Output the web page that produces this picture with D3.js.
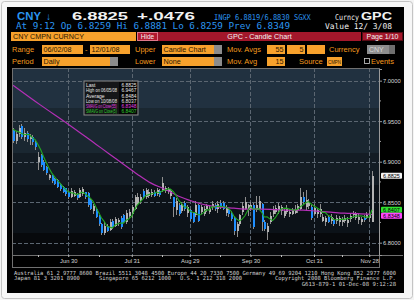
<!DOCTYPE html>
<html>
<head>
<meta charset="utf-8">
<script src="https://cdn.jsdelivr.net/npm/d3@7"></script>
<style>
  html, body { margin: 0; padding: 0; background: #f4f4f4; }
  svg { display: block; }
</style>
</head>
<body>
<svg id="chart" width="414" height="300"></svg>
<script>
// ---- data (CNY CMPN, daily, 06/02/08 - 12/01/08) ----
const startDate = "2008-06-02";
const endDate = "2008-12-01";

const open = [
  6.9390,6.9250,6.9340,6.9440,6.9300,6.9350,6.9280,6.9300,6.9240,6.8990,
  6.9080,6.9000,6.8930,6.8800,6.8830,6.8790,6.8770,6.8720,6.8690,6.8670,
  6.8620,6.8570,6.8580,6.8600,6.8570,6.8600,6.8620,6.8610,6.8530,6.8390,
  6.8420,6.8330,6.8230,6.8120,6.8210,6.8160,6.8270,6.8200,6.8250,6.8310,
  6.8340,6.8250,6.8330,6.8360,6.8420,6.8480,6.8510,6.8640,6.8560,6.8580,
  6.8590,6.8630,6.8600,6.8640,6.8650,6.8640,6.8620,6.8580,6.8560,6.8400,
  6.8470,6.8390,6.8490,6.8370,6.8400,6.8370,6.8340,6.8460,6.8380,6.8360,
  6.8410,6.8380,6.8440,6.8470,6.8420,6.8490,6.8490,6.8370,6.8400,6.8370,
  6.8310,6.8150,6.8230,6.8380,6.8420,6.8400,6.8420,6.8470,6.8400,6.8420,
  6.8480,6.8260,6.8130,6.8260,6.8350,6.8380,6.8400,6.8390,6.8330,6.8380,
  6.8350,6.8360,6.8370,6.8400,6.8420,6.8560,6.8440,6.8450,6.8440,6.8360,
  6.8360,6.8350,6.8270,6.8260,6.8320,6.8270,6.8280,6.8270,6.8260,6.8250,
  6.8270,6.8240,6.8290,6.8340,6.8310,6.8280,6.8250,6.8310,6.8310,6.8300,
  6.8259
];
const high = [
  6.9420,6.9380,6.9450,6.9467,6.9420,6.9380,6.9340,6.9330,6.9260,6.9120,
  6.9100,6.9020,6.8950,6.8850,6.8840,6.8800,6.8780,6.8740,6.8700,6.8680,
  6.8640,6.8680,6.8650,6.8610,6.8680,6.8690,6.8630,6.8620,6.8540,6.8480,
  6.8430,6.8340,6.8240,6.8250,6.8230,6.8290,6.8290,6.8320,6.8310,6.8330,
  6.8360,6.8400,6.8410,6.8470,6.8590,6.8610,6.8600,6.8660,6.8680,6.8660,
  6.8660,6.8650,6.8670,6.8660,6.8805,6.8700,6.8690,6.8660,6.8570,6.8550,
  6.8490,6.8500,6.8510,6.8470,6.8420,6.8380,6.8510,6.8480,6.8470,6.8450,
  6.8480,6.8460,6.8510,6.8490,6.8520,6.8530,6.8510,6.8470,6.8420,6.8390,
  6.8330,6.8260,6.8360,6.8500,6.8560,6.8480,6.8500,6.8490,6.8580,6.8580,
  6.8490,6.8280,6.8240,6.8380,6.8450,6.8470,6.8490,6.8470,6.8420,6.8460,
  6.8410,6.8430,6.8460,6.8480,6.8680,6.8620,6.8650,6.8540,6.8460,6.8480,
  6.8430,6.8480,6.8360,6.8330,6.8340,6.8350,6.8300,6.8340,6.8330,6.8320,
  6.8340,6.8320,6.8360,6.8390,6.8380,6.8350,6.8320,6.8340,6.8380,6.8400,
  6.8881
];
const low = [
  6.9230,6.9220,6.9310,6.9280,6.9250,6.9240,6.9200,6.9200,6.9150,6.8900,
  6.8940,6.8880,6.8840,6.8770,6.8740,6.8710,6.8670,6.8640,6.8610,6.8580,
  6.8540,6.8550,6.8560,6.8530,6.8550,6.8580,6.8540,6.8440,6.8400,6.8360,
  6.8300,6.8200,6.8100,6.8090,6.8130,6.8140,6.8170,6.8190,6.8200,6.8170,
  6.8240,6.8230,6.8300,6.8300,6.8400,6.8460,6.8480,6.8540,6.8540,6.8550,
  6.8570,6.8570,6.8580,6.8570,6.8620,6.8610,6.8600,6.8540,6.8320,6.8340,
  6.8330,6.8370,6.8390,6.8320,6.8270,6.8240,6.8320,6.8250,6.8360,6.8330,
  6.8380,6.8350,6.8400,6.8390,6.8370,6.8420,6.8400,6.8330,6.8320,6.8270,
  6.8100,6.8070,6.8210,6.8340,6.8400,6.8330,6.8390,6.8170,6.8380,6.8400,
  6.8150,6.8150,6.8037,6.8230,6.8320,6.8350,6.8360,6.8340,6.8300,6.8350,
  6.8320,6.8340,6.8350,6.8370,6.8400,6.8480,6.8400,6.8410,6.8280,6.8340,
  6.8300,6.8320,6.8250,6.8210,6.8240,6.8230,6.8210,6.8230,6.8210,6.8200,
  6.8240,6.8190,6.8250,6.8310,6.8280,6.8230,6.8220,6.8260,6.8290,6.8260,
  6.8259
];
const close = [
  6.9250,6.9340,6.9420,6.9300,6.9350,6.9280,6.9310,6.9240,6.9180,6.9060,
  6.8960,6.8900,6.8860,6.8830,6.8760,6.8730,6.8690,6.8660,6.8630,6.8600,
  6.8560,6.8640,6.8620,6.8550,6.8650,6.8660,6.8560,6.8460,6.8420,6.8450,
  6.8320,6.8230,6.8120,6.8200,6.8150,6.8260,6.8190,6.8290,6.8280,6.8190,
  6.8260,6.8370,6.8380,6.8440,6.8560,6.8570,6.8560,6.8560,6.8650,6.8620,
  6.8630,6.8580,6.8650,6.8590,6.8740,6.8680,6.8660,6.8640,6.8440,6.8520,
  6.8350,6.8480,6.8410,6.8440,6.8290,6.8260,6.8460,6.8270,6.8440,6.8420,
  6.8450,6.8430,6.8480,6.8410,6.8480,6.8440,6.8420,6.8440,6.8350,6.8290,
  6.8140,6.8230,6.8340,6.8450,6.8500,6.8460,6.8470,6.8190,6.8460,6.8520,
  6.8250,6.8170,6.8200,6.8330,6.8410,6.8430,6.8450,6.8440,6.8390,6.8420,
  6.8380,6.8400,6.8420,6.8450,6.8560,6.8500,6.8530,6.8500,6.8300,6.8430,
  6.8400,6.8420,6.8320,6.8300,6.8260,6.8320,6.8230,6.8310,6.8300,6.8290,
  6.8310,6.8280,6.8330,6.8370,6.8350,6.8320,6.8290,6.8280,6.8340,6.8349,
  6.8825
];
// SMAVG on Close(5), one value per day
const sma5 = [
  6.9400,6.9380,6.9370,6.9350,6.9332,6.9338,6.9332,6.9296,6.9272,6.9214,
  6.9150,6.9068,6.8992,6.8922,6.8862,6.8816,6.8774,6.8734,6.8694,6.8662,
  6.8628,6.8618,6.8610,6.8594,6.8604,6.8624,6.8608,6.8576,6.8550,6.8510,
  6.8442,6.8376,6.8308,6.8264,6.8204,6.8192,6.8184,6.8218,6.8234,6.8242,
  6.8242,6.8278,6.8296,6.8328,6.8402,6.8464,6.8502,6.8538,6.8580,6.8592,
  6.8604,6.8608,6.8626,6.8614,6.8638,6.8648,6.8664,6.8662,6.8632,6.8588,
  6.8522,6.8486,6.8440,6.8440,6.8394,6.8376,6.8372,6.8344,6.8344,6.8370,
  6.8408,6.8402,6.8444,6.8438,6.8450,6.8448,6.8446,6.8438,6.8426,6.8388,
  6.8328,6.8290,6.8270,6.8290,6.8332,6.8396,6.8444,6.8414,6.8416,6.8420,
  6.8378,6.8318,6.8320,6.8294,6.8272,6.8308,6.8364,6.8412,6.8424,6.8426,
  6.8416,6.8406,6.8402,6.8414,6.8442,6.8466,6.8492,6.8508,6.8478,6.8452,
  6.8432,6.8410,6.8374,6.8374,6.8340,6.8324,6.8286,6.8284,6.8284,6.8290,
  6.8288,6.8298,6.8302,6.8316,6.8328,6.8330,6.8332,6.8322,6.8316,6.8316,
  6.8407
];
// SMAVG on Close(55), read every 5th day
const sma55Day = [0,10,20,30,35,40,45,50,55,60,65,70,75,80,85,90,95,100,105,110,115,120,125,130];
const sma55Val = [6.9944,6.9698,6.9463,6.9216,6.9093,6.8969,6.8846,6.8735,6.8660,6.8574,6.8512,6.8463,
                  6.8438,6.8426,6.8414,6.8414,6.8407,6.8401,6.8401,6.8389,6.8377,6.8364,6.8358,6.8348];

const xTickDates = ["2008-06-30","2008-07-31","2008-08-29","2008-09-30","2008-10-31","2008-11-28"];
const xTickLabels = ["Jun 30","Jul 31","Aug 29","Sep 30","Oct 31","Nov 28"];
const xMinorDates = ["2008-06-13","2008-07-15","2008-08-15","2008-09-15","2008-10-15","2008-11-14"];
const yTicks = [6.80, 6.85, 6.90, 6.95, 7.00];
const yMinorTicks = [6.825, 6.875, 6.925, 6.975];

const legendLabels = ["Last","High on 06/05/08","Average","Low on 10/08/08","SMAVG on Close(55)","SMAVG on Close(5)"];
const legendValues = ["6.8825","6.9467","6.8484","6.8037","6.8348","6.8407"];

// ---- drawing ----
const svg = d3.select("#chart");
const mono = "'DejaVu Sans Mono', monospace";
const sans = "'Liberation Sans', Arial, sans-serif";
const blueTxt = "#2b95f0";
const orangeTxt = "#f49b1e";
const orangeBox = "#f7a12c";
const magenta = "#b42fb6";
const green = "#22a822";

function label(g, x, y, s, o = {}) {
  const t = g.append("text").attr("x", x).attr("y", y).text(s)
    .attr("font-family", o.font || sans)
    .attr("font-size", o.size || 8)
    .attr("fill", o.fill || "#f2f2f2");
  if (o.weight) t.attr("font-weight", o.weight);
  if (o.anchor) t.attr("text-anchor", o.anchor);
  if (o.len) t.attr("textLength", o.len).attr("lengthAdjust", "spacingAndGlyphs");
  return t;
}
// text squeezed horizontally (real transform) so it fits a given width
function squeezed(g, x, y, s, maxW, o = {}) {
  const wrap = g.append("g").attr("transform", `translate(${x},${y})`);
  const t = label(wrap, 0, 0, s, o);
  const w = t.node().getComputedTextLength();
  if (w > maxW) wrap.attr("transform", `translate(${x},${y}) scale(${maxW / w},1)`);
  return t;
}
function box(g, x, y, w, h, fill, stroke) {
  return g.append("rect").attr("x", x).attr("y", y).attr("width", w).attr("height", h)
    .attr("fill", fill).attr("stroke", stroke || "none").attr("shape-rendering", "crispEdges");
}

// frame + black panel
svg.append("rect").attr("x", 1.5).attr("y", 1.5).attr("width", 411).attr("height", 297)
  .attr("rx", 3).attr("fill", "#f7f7f7").attr("stroke", "#c4c4c4");
box(svg, 7, 7, 397, 286, "#000");

// header lines
label(svg, 17, 20, "CNY", {size: 11, weight: "bold", fill: blueTxt, len: 24});
label(svg, 46, 20, "\u2193", {size: 10, fill: blueTxt});
label(svg, 72, 20, "6.8825", {size: 11, weight: "bold", len: 56});
label(svg, 137, 20, "+.0476", {size: 11, weight: "bold", len: 58});
squeezed(svg, 214, 19.5, "INGP 6.8819/6.8830 SGXX", 97, {font: mono, size: 8, fill: blueTxt});
squeezed(svg, 335, 19.5, "Curncy", 24, {font: mono, size: 8});
label(svg, 361, 20, "GPC", {size: 11, weight: "bold", len: 31});
label(svg, 16, 28.5, "At  9:12 Op 6.8259   Hi 6.8881   Lo 6.8259   Prev 6.8349",
      {font: mono, size: 8, fill: blueTxt, len: 274});
squeezed(svg, 325, 28.5, "Value 12/ 3/08", 67, {font: mono, size: 8});

// title bar
box(svg, 11, 32, 125, 9, orangeBox);
label(svg, 13, 39.3, "CNY CMPN CURNCY", {size: 7.2, fill: "#2a1600"});
box(svg, 137.5, 32.5, 20, 8, "#b3192f", "#e0788a");
label(svg, 147.5, 39, "Hide", {size: 6.5, anchor: "middle"});
box(svg, 158, 32, 203, 9, "#a3172b");
label(svg, 259.5, 39.3, "GPC - Candle Chart", {size: 7.2, anchor: "middle"});
box(svg, 362.5, 32.5, 40, 8, "#a3172b", "#5a0a14");
label(svg, 382.5, 39.3, "Page 1/10", {size: 7, anchor: "middle"});

// control rows (layout only)
const controls = [
  {t: "label", x: 12, y: 52, s: "Range"},
  {t: "box", x: 42, y: 44.5, w: 41, s: "06/02/08"},
  {t: "label", x: 85, y: 52, s: "-"},
  {t: "box", x: 90, y: 44.5, w: 40, s: "12/01/08"},
  {t: "label", x: 135, y: 52, s: "Upper"},
  {t: "box", x: 162, y: 44.5, w: 52, s: "Candle Chart", seg: true},
  {t: "label", x: 227, y: 52, s: "Mov. Avgs"},
  {t: "box", x: 267, y: 44.5, w: 18, s: "55", right: true},
  {t: "box", x: 287, y: 44.5, w: 18, s: "5", right: true},
  {t: "box", x: 307, y: 44.5, w: 18, s: ""},
  {t: "label", x: 329, y: 52, s: "Currency"},
  {t: "gray", x: 367, y: 44.5, w: 22, s: "CNY"},
  {t: "label", x: 12, y: 64, s: "Period"},
  {t: "box", x: 42, y: 56.5, w: 68, s: "Daily", seg: true},
  {t: "label", x: 135, y: 64, s: "Lower"},
  {t: "box", x: 162, y: 56.5, w: 52, s: "None", seg: true},
  {t: "label", x: 227, y: 64, s: "Mov. Avg"},
  {t: "box", x: 267, y: 56.5, w: 18, s: "15", right: true},
  {t: "label", x: 299, y: 64, s: "Source"},
  {t: "box", x: 327, y: 56.5, w: 15, s: "CMPN", small: true},
  {t: "label", x: 371, y: 64, s: "Events"}
];
controls.forEach(c => {
  if (c.t === "label") {
    label(svg, c.x, c.y, c.s, {size: 7.5, fill: orangeTxt});
  } else if (c.t === "gray") {
    box(svg, c.x, c.y, c.w, 9, "#8e8e8e");
    box(svg, c.x + c.w, c.y, 6, 9, "#6f6f6f");
    label(svg, c.x + 2, c.y + 7.3, c.s, {size: 7, fill: "#d8d8d8"});
  } else {
    box(svg, c.x, c.y, c.w, 9, orangeBox);
    if (c.seg) box(svg, c.x + c.w, c.y, 8, 9, "#8c8c8c");
    if (c.right) label(svg, c.x + c.w - 1.5, c.y + 7.3, c.s, {size: 7.2, fill: "#2a1600", anchor: "end"});
    else if (c.small) squeezed(svg, c.x + 1, c.y + 7, c.s, 13, {size: 6, fill: "#2a1600"});
    else label(svg, c.x + 1.5, c.y + 7.3, c.s, {size: 7.2, fill: "#2a1600"});
  }
});
svg.append("rect").attr("x", 364.5).attr("y", 58.5).attr("width", 5).attr("height", 5)
  .attr("fill", "none").attr("stroke", "#cfcfcf").attr("stroke-width", 0.8);

// ---- chart ----
const plot = {l: 12, r: 379, t: 68, b: 255};
const parse = d3.utcParse("%Y-%m-%d");
const fmt = d3.utcFormat("%Y-%m-%d");
const days = d3.utcDay.range(parse(startDate), d3.utcDay.offset(parse(endDate), 1))
  .filter(d => d.getUTCDay() !== 0 && d.getUTCDay() !== 6)
  .map(fmt);

const x = d3.scalePoint().domain(days).range([13, 372]);
const y = d3.scaleLinear().domain([6.7848, 7.0144]).range([plot.b, plot.t + 1]);

// background bands
const bands = [[68, 108, "#213140"], [108, 153, "#1a2731"], [153, 185, "#131c24"],
               [185, 233, "#0c1218"], [233, 255, "#07090c"]];
bands.forEach(b => box(svg, plot.l, b[0], plot.r - plot.l, b[1] - b[0], b[2]));

// grid
const grid = svg.append("g").attr("stroke", "#5b6671").attr("stroke-dasharray", "4,2")
  .attr("shape-rendering", "crispEdges");
grid.selectAll(".h").data(yTicks).join("line")
  .attr("x1", plot.l).attr("x2", plot.r)
  .attr("y1", d => Math.round(y(d)) + 0.5).attr("y2", d => Math.round(y(d)) + 0.5);
grid.selectAll(".v").data(xTickDates).join("line")
  .attr("x1", d => Math.round(x(d)) + 0.5).attr("x2", d => Math.round(x(d)) + 0.5)
  .attr("y1", plot.t).attr("y2", plot.b);

// candles
const candles = days.map((d, i) => ({d, o: open[i], h: high[i], l: low[i], c: close[i]}));
const cg = svg.append("g").attr("shape-rendering", "crispEdges");
cg.selectAll("line").data(candles).join("line")
  .attr("x1", d => Math.round(x(d.d)) + 0.5).attr("x2", d => Math.round(x(d.d)) + 0.5)
  .attr("y1", d => y(d.h)).attr("y2", d => y(d.l))
  .attr("stroke", "#8f8f8f");
cg.selectAll("rect").data(candles).join("rect")
  .attr("x", d => Math.round(x(d.d)) - 0.5)
  .attr("width", 2)
  .attr("y", d => y(Math.max(d.o, d.c)))
  .attr("height", d => Math.max(1, Math.abs(y(d.o) - y(d.c))))
  .attr("fill", d => d.c >= d.o ? "#b4b4b4" : "#1f8fff");

// moving averages
const line55 = d3.line().x(d => x(days[d[0]])).y(d => y(d[1])).curve(d3.curveMonotoneX);
svg.append("path").datum(sma55Day.map((d, i) => [d, sma55Val[i]]))
  .attr("d", line55).attr("fill", "none").attr("stroke", magenta).attr("stroke-width", 1.2);
const line5 = d3.line().x((d, i) => x(days[i])).y(d => y(d));
svg.append("path").datum(sma5)
  .attr("d", line5).attr("fill", "none").attr("stroke", green).attr("stroke-width", 1.1);

// frames
const fr = svg.append("g").attr("stroke", "#707070").attr("fill", "none").attr("shape-rendering", "crispEdges");
fr.append("rect").attr("x", plot.l).attr("y", plot.t).attr("width", plot.r - plot.l).attr("height", plot.b - plot.t);
fr.append("rect").attr("x", plot.l).attr("y", plot.b).attr("width", plot.r - plot.l).attr("height", 12);
fr.append("line").attr("x1", plot.r).attr("x2", 403).attr("y1", 255.5).attr("y2", 255.5);

// right axis
const yAxis = svg.append("g").attr("transform", `translate(${plot.r},0)`)
  .call(d3.axisRight(y).tickValues(yTicks).tickFormat(d3.format(".4f")).tickSize(3).tickPadding(1));
yAxis.select(".domain").attr("stroke", "#9a9a9a");
yAxis.selectAll(".tick line").attr("stroke", "#9a9a9a");
yAxis.selectAll("text").attr("fill", "#d8d8d8").attr("font-size", 5.8).attr("font-family", sans);
svg.append("g").selectAll("line").data(yMinorTicks).join("line")
  .attr("x1", plot.r).attr("x2", plot.r + 2)
  .attr("y1", d => y(d)).attr("y2", d => y(d)).attr("stroke", "#9a9a9a");

// bottom axis
const xAxis = svg.append("g").attr("transform", `translate(0,${plot.b})`)
  .call(d3.axisBottom(x).tickValues(xTickDates).tickFormat((d, i) => xTickLabels[i]).tickSize(2).tickPadding(2));
xAxis.select(".domain").remove();
xAxis.selectAll(".tick line").attr("stroke", "#bdbdbd");
xAxis.selectAll("text").attr("fill", "#d8d8d8").attr("font-size", 5.8).attr("font-family", sans);
svg.append("g").selectAll("line").data(xMinorDates).join("line")
  .attr("x1", d => Math.round(x(d)) + 0.5).attr("x2", d => Math.round(x(d)) + 0.5)
  .attr("y1", plot.b).attr("y2", plot.b + 2).attr("stroke", "#bdbdbd");

// last value tags on the right
const tags = [
  {v: close[close.length - 1], fill: "#f2f2f2"},
  {v: sma5[sma5.length - 1], fill: "#2fe02f"},
  {v: sma55Val[sma55Val.length - 1], fill: "#ff48ff"}
].sort((a, b) => y(a.v) - y(b.v));
let prevY = -Infinity;
tags.forEach(t => {
  t.y = Math.max(y(t.v), prevY + 6);
  prevY = t.y;
});
const tg = svg.append("g").selectAll("g").data(tags).join("g")
  .attr("transform", d => `translate(381,${d.y})`);
tg.append("rect").attr("x", 0).attr("y", -3).attr("width", 21).attr("height", 6).attr("rx", 1)
  .attr("fill", d => d.fill);
tg.append("text").attr("x", 10.5).attr("y", 2).attr("text-anchor", "middle")
  .attr("font-size", 5.5).attr("font-family", sans).attr("fill", "#000")
  .text(d => d3.format(".4f")(d.v));

// legend
const lg = svg.append("g").attr("transform", "translate(84,81)");
lg.append("rect").attr("width", 54).attr("height", 34).attr("fill", "#141414")
  .attr("fill-opacity", 0.9).attr("stroke", "#8a8a8a");
lg.append("rect").attr("x", 35).attr("y", 1).attr("width", 18).attr("height", 32).attr("fill", "#050505");
const legendColors = ["#e8e8e8", "#e8e8e8", "#e8e8e8", "#e8e8e8", "#e040e0", "#2fd02f"];
legendLabels.forEach((s, i) => {
  squeezed(lg, 2, 5.9 + i * 5.3, s, 31, {size: 5, fill: legendColors[i]});
  squeezed(lg, 37.5, 5.9 + i * 5.3, legendValues[i], 15, {size: 5, fill: legendColors[i]});
});

// footer
const ft = {font: mono, size: 5.6, fill: "#d0d0d0"};
label(svg, 14, 274.5, "Australia 61 2 9777 8600 Brazil 5511 3048 4500 Europe 44 20 7330 7500 Germany 49 69 9204 1210 Hong Kong 852 2977 6000", {...ft, len: 382});
squeezed(svg, 14, 280, "Japan 81 3 3201 8900", 66, ft);
squeezed(svg, 99, 280, "Singapore 65 6212 1000", 72, ft);
squeezed(svg, 180, 280, "U.S. 1 212 318 2000", 62, ft);
squeezed(svg, 275, 280, "Copyright 2008 Bloomberg Finance L.P.", 121, ft);
label(svg, 396, 285.5, "G613-879-1 01-Dec-08  9:12:28", {...ft, anchor: "end"});
</script>
</body>
</html>
